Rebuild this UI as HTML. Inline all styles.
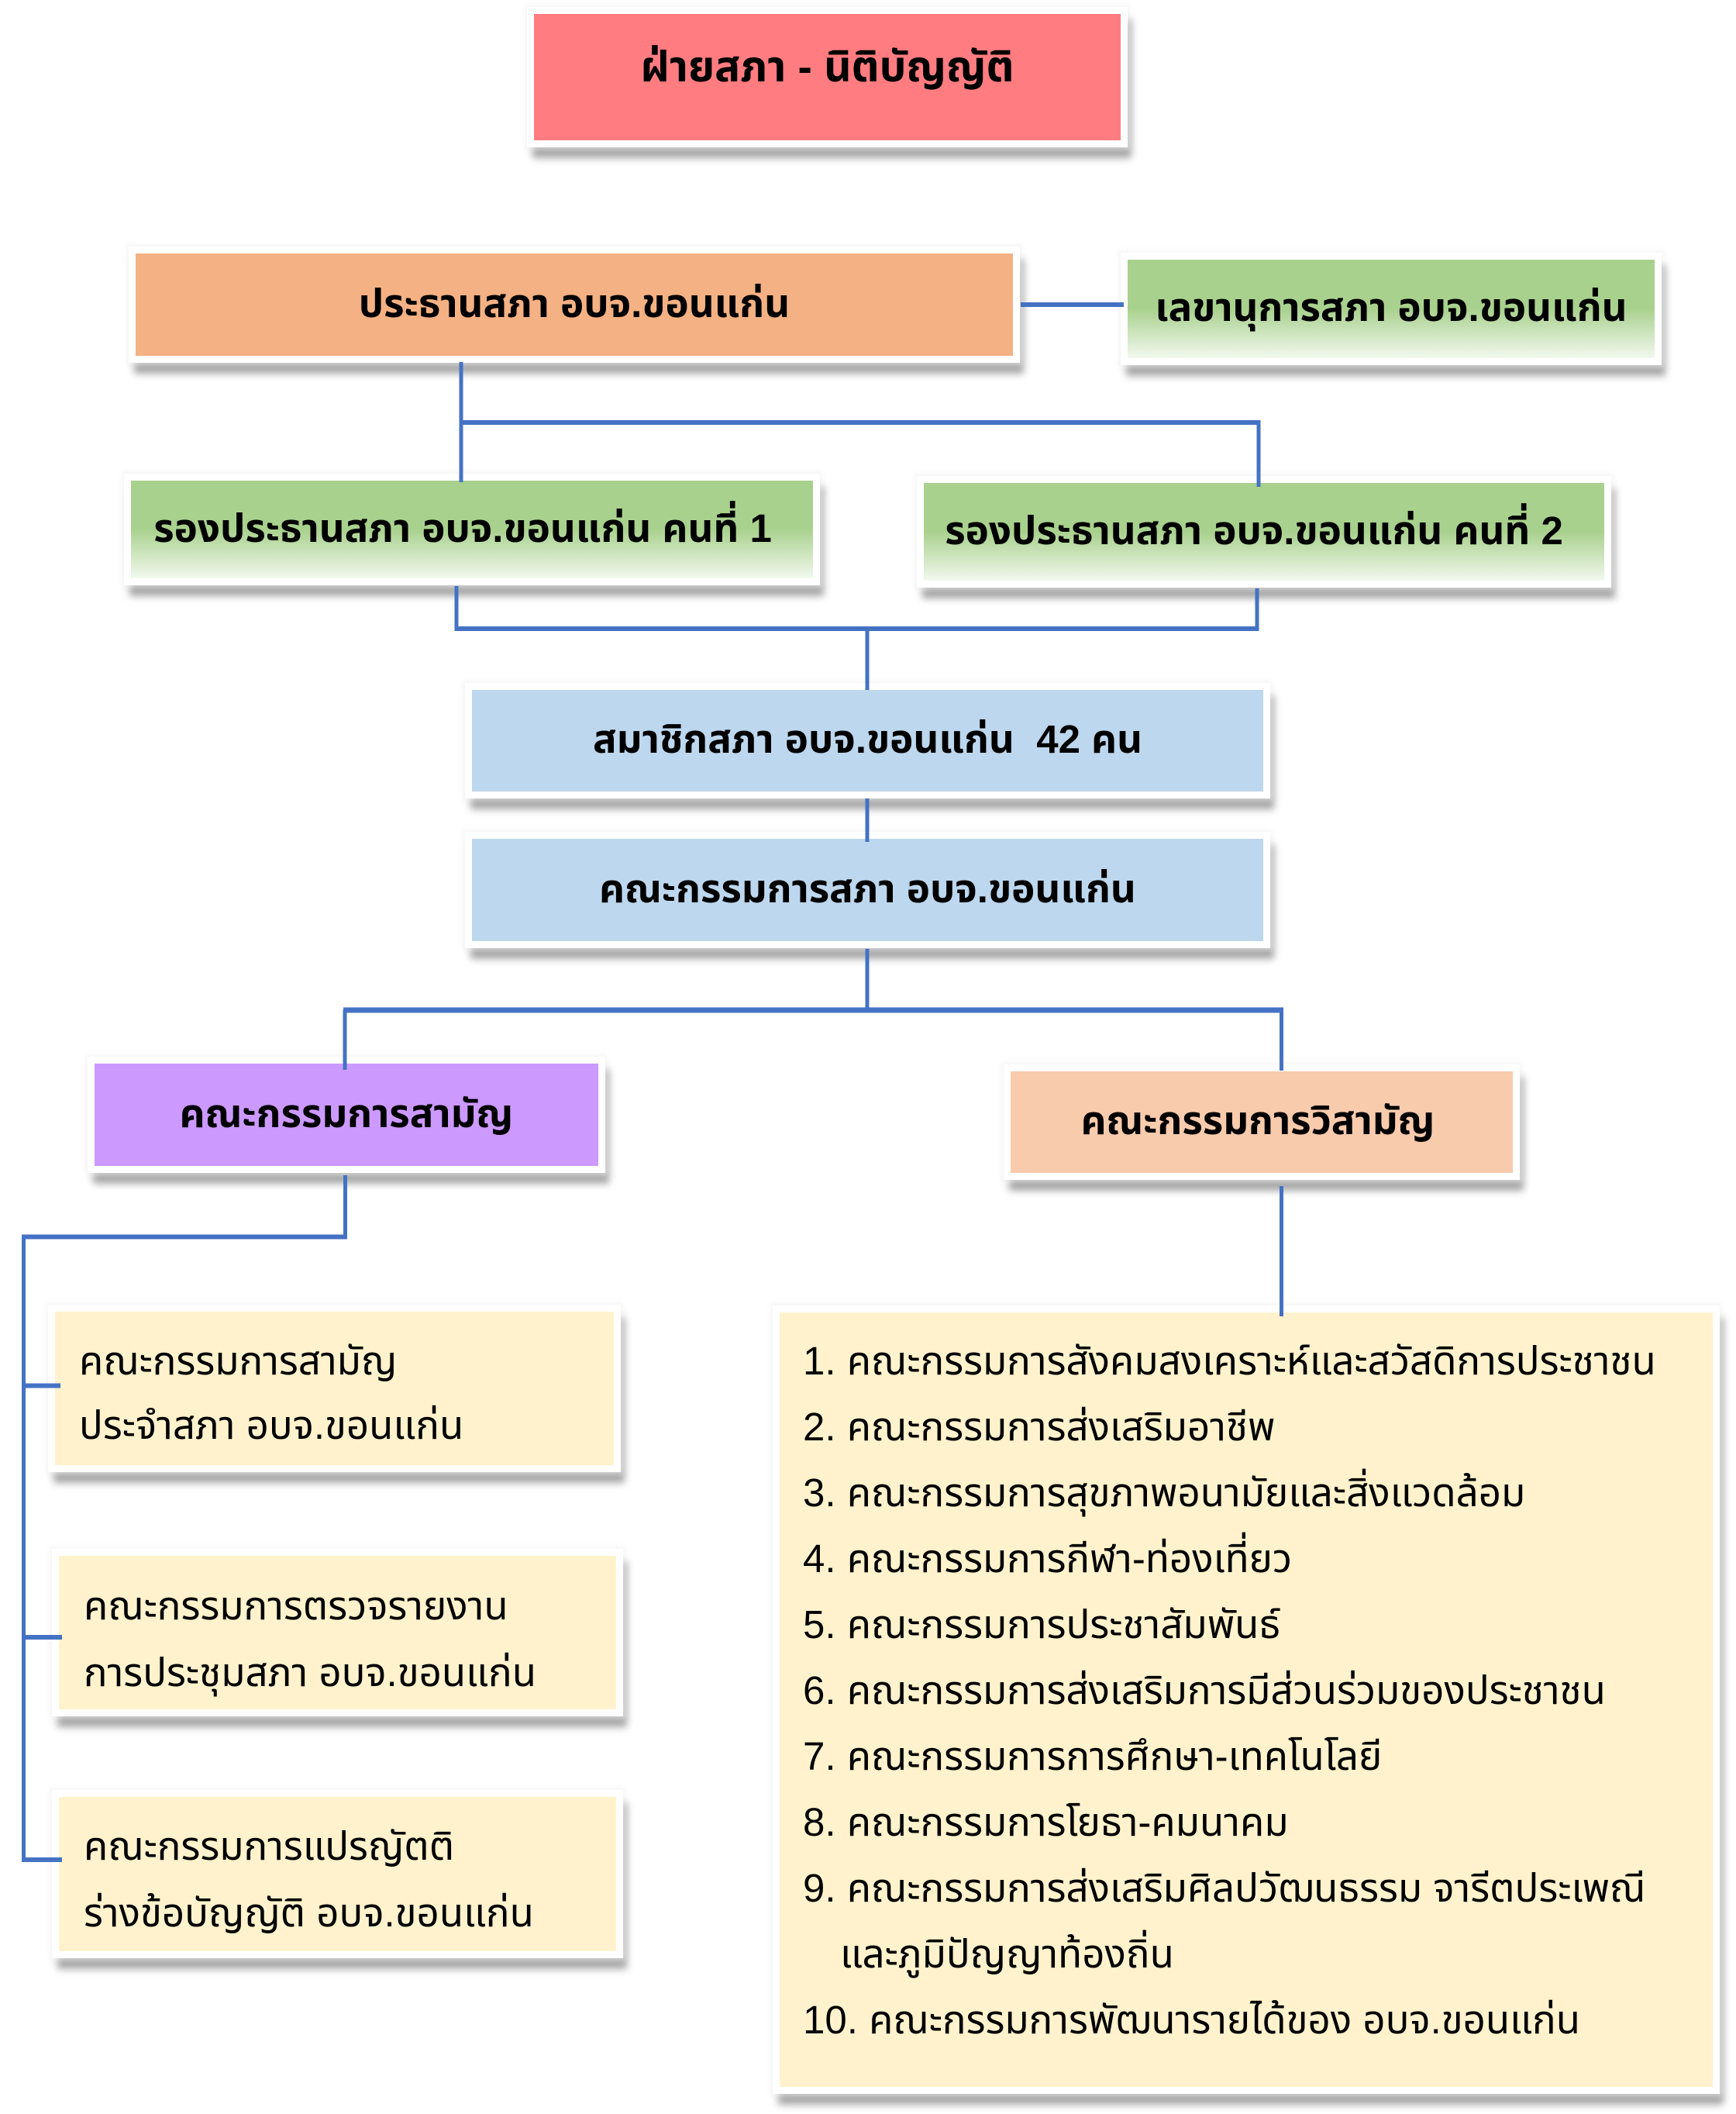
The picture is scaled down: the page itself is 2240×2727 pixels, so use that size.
<!DOCTYPE html>
<html><head><meta charset="utf-8">
<style>
html,body{margin:0;padding:0;background:#fff;}
body{width:2240px;height:2727px;position:relative;overflow:hidden;font-family:"Liberation Sans","Noto Sans Thai","Sarabun","TH Sarabun New","Loma","Garuda","Waree","Tlwg Typo","Noto Sans CJK SC",sans-serif;color:#000;}
.b{position:absolute;box-shadow:0 0 0 9px #fff,0 0 6px 12px rgba(240,240,240,0.6),6px 15px 9px 8px rgba(0,0,0,0.35);display:flex;align-items:center;justify-content:center;white-space:nowrap;box-sizing:border-box;}
.h{font-weight:bold;font-size:51px;}
.g{background:linear-gradient(to bottom,#A9D18E 0%,#A9D18E 50%,#F2F8EE 100%);}
.c{background:#FFF2CC;}
.ln{position:absolute;white-space:nowrap;font-size:51px;height:84px;line-height:84px;}
svg{position:absolute;left:0;top:0;}
</style></head>
<body>
<div class="b h" style="left:689px;top:18px;width:757px;height:163px;background:#FF7C80;padding-bottom:22px;font-size:55px;">ฝ่ายสภา - นิติบัญญัติ</div>

<div class="b h" style="left:175px;top:327px;width:1132px;height:132px;background:#F4B183;">ประธานสภา อบจ.ขอนแก่น</div>
<div class="b h g" style="left:1455px;top:335px;width:680px;height:127px;">เลขานุการสภา อบจ.ขอนแก่น</div>

<div class="b h g" style="left:169px;top:620px;width:880px;height:126px;padding-right:24px;">รองประธานสภา อบจ.ขอนแก่น คนที่ 1</div>
<div class="b h g" style="left:1192px;top:623px;width:878px;height:126px;padding-right:26px;">รองประธานสภา อบจ.ขอนแก่น คนที่ 2</div>

<div class="b h" style="left:609px;top:890px;width:1021px;height:131px;background:#BDD7EE;">สมาชิกสภา อบจ.ขอนแก่น&nbsp;&nbsp;42 คน</div>
<div class="b h" style="left:609px;top:1082px;width:1021px;height:132px;background:#BDD7EE;">คณะกรรมการสภา อบจ.ขอนแก่น</div>

<div class="b h" style="left:122px;top:1372px;width:650px;height:132px;background:#CC99FF;">คณะกรรมการสามัญ</div>
<div class="b h" style="left:1304px;top:1382px;width:648px;height:131px;background:#F8CBAD;padding-right:10px;">คณะกรรมการวิสามัญ</div>

<div class="b c" style="left:71px;top:1692px;width:721px;height:198px;"></div>
<div class="b c" style="left:76px;top:2007px;width:719px;height:198px;"></div>
<div class="b c" style="left:76px;top:2318px;width:719px;height:199px;"></div>
<div class="b c" style="left:1006px;top:1693px;width:1204px;height:999px;"></div>

<div class="ln" style="left:102px;top:1714px;">คณะกรรมการสามัญ</div>
<div class="ln" style="left:102px;top:1797px;">ประจำสภา อบจ.ขอนแก่น</div>
<div class="ln" style="left:108px;top:2030px;">คณะกรรมการตรวจรายงาน</div>
<div class="ln" style="left:108px;top:2116px;">การประชุมสภา อบจ.ขอนแก่น</div>
<div class="ln" style="left:108px;top:2340px;">คณะกรรมการแปรญัตติ</div>
<div class="ln" style="left:108px;top:2426px;">ร่างข้อบัญญัติ อบจ.ขอนแก่น</div>

<div class="ln" style="left:1036px;top:1714px;">1. คณะกรรมการสังคมสงเคราะห์และสวัสดิการประชาชน</div>
<div class="ln" style="left:1036px;top:1799px;">2. คณะกรรมการส่งเสริมอาชีพ</div>
<div class="ln" style="left:1036px;top:1884px;">3. คณะกรรมการสุขภาพอนามัยและสิ่งแวดล้อม</div>
<div class="ln" style="left:1036px;top:1969px;">4. คณะกรรมการกีฬา-ท่องเที่ยว</div>
<div class="ln" style="left:1036px;top:2054px;">5. คณะกรรมการประชาสัมพันธ์</div>
<div class="ln" style="left:1036px;top:2139px;">6. คณะกรรมการส่งเสริมการมีส่วนร่วมของประชาชน</div>
<div class="ln" style="left:1036px;top:2224px;">7. คณะกรรมการการศึกษา-เทคโนโลยี</div>
<div class="ln" style="left:1036px;top:2309px;">8. คณะกรรมการโยธา-คมนาคม</div>
<div class="ln" style="left:1036px;top:2394px;">9. คณะกรรมการส่งเสริมศิลปวัฒนธรรม จารีตประเพณี</div>
<div class="ln" style="left:1084px;top:2479px;">และภูมิปัญญาท้องถิ่น</div>
<div class="ln" style="left:1036px;top:2564px;">10. คณะกรรมการพัฒนารายได้ของ อบจ.ขอนแก่น</div>

<svg width="2240" height="2727" viewBox="0 0 2240 2727">
<g stroke="#4472C4" fill="none" stroke-linecap="butt">
<line x1="1317" y1="393" x2="1450" y2="393" stroke-width="6"/>
<line x1="595" y1="467" x2="595" y2="622" stroke-width="5"/>
<line x1="595" y1="545" x2="1624" y2="545" stroke-width="6"/>
<line x1="1624" y1="542" x2="1624" y2="628" stroke-width="5"/>
<line x1="589" y1="756" x2="589" y2="811" stroke-width="5"/>
<line x1="586.5" y1="811" x2="1624.5" y2="811" stroke-width="6"/>
<line x1="1622" y1="759" x2="1622" y2="811" stroke-width="5"/>
<line x1="1119" y1="811" x2="1119" y2="890" stroke-width="5"/>
<line x1="1119" y1="1030" x2="1119" y2="1086" stroke-width="5"/>
<line x1="1119" y1="1224" x2="1119" y2="1303" stroke-width="5"/>
<line x1="443" y1="1303" x2="1656" y2="1303" stroke-width="7"/>
<line x1="445" y1="1303" x2="445" y2="1380" stroke-width="5"/>
<line x1="1653.5" y1="1303" x2="1653.5" y2="1381" stroke-width="5"/>
<line x1="445.5" y1="1516" x2="445.5" y2="1598" stroke-width="5"/>
<line x1="28" y1="1595.5" x2="448" y2="1595.5" stroke-width="6"/>
<line x1="30.5" y1="1593" x2="30.5" y2="2402" stroke-width="5"/>
<line x1="30" y1="1787.5" x2="78" y2="1787.5" stroke-width="6"/>
<line x1="30" y1="2112" x2="80" y2="2112" stroke-width="6"/>
<line x1="30" y1="2399" x2="80" y2="2399" stroke-width="6"/>
<line x1="1653.5" y1="1530" x2="1653.5" y2="1698" stroke-width="5"/>
</g>
</svg>
</body></html>
